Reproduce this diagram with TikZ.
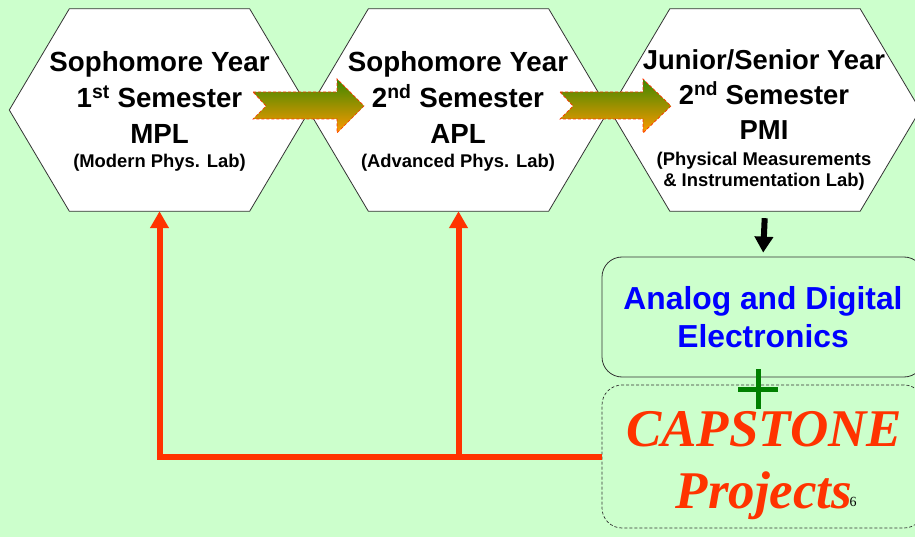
\documentclass[tikz,border=0pt]{standalone}
\usepackage{fontspec}
\setmainfont{Liberation Sans}
\newfontfamily\serifface{Liberation Serif}
\usetikzlibrary{arrows.meta,calc}

\definecolor{pagebg}{RGB}{204,255,204}
\definecolor{loopred}{RGB}{255,51,0}
\definecolor{arrowgreen}{RGB}{60,136,0}
\definecolor{arrowamber}{RGB}{255,153,0}
\definecolor{plusgreen}{RGB}{0,128,0}
\definecolor{edgegray}{RGB}{51,51,51}
\definecolor{labelblue}{RGB}{0,0,255}

\newcommand\fsz[2]{\fontsize{#1}{#2}\selectfont}

\begin{document}
\begin{tikzpicture}[x=1pt,y=-1pt,
  hexbox/.style={minimum width=#1, minimum height=202, inner sep=0pt, draw=none},
  hexline/.style={draw=edgegray, line width=0.8pt, fill=white},
  hextext/.style={align=center, inner sep=0pt, font=\bfseries\fsz{27.7}{36}},
  blockarrow/.style={top color=arrowgreen, bottom color=arrowamber,
    draw=loopred, line width=0.7pt, dash pattern=on 3pt off 2pt},
  loopline/.style={draw=loopred, line width=6pt,
    -{Triangle[length=17pt,width=18pt]}},
  downarrow/.style={draw=black, line width=6pt,
    -{Triangle[length=16pt,width=18pt]}},
  roundbox/.style={rounded corners=20pt, minimum width=322, inner sep=0pt},
]
\clip (0,0) rectangle (915,537);
\fill[pagebg] (0,0) rectangle (915,537);

% hexagon frames
\node[hexbox=300] (h1) at (159.5,110) {};
\node[hexbox=300] (h2) at (458.5,110) {};
\node[hexbox=310] (h3) at (765,110) {};
\foreach \h in {h1,h2,h3}{
  \draw[hexline] (\h.west) -- ([xshift=60pt]\h.north west)
    -- ([xshift=-60pt]\h.north east) -- (\h.east)
    -- ([xshift=-60pt]\h.south east) -- ([xshift=60pt]\h.south west) -- cycle;
}

% hexagon labels (anchored on the baseline of their last line)
\node[hextext, anchor=base] (t1) at (159.5,168)
  {Sophomore Year\\1\textsuperscript{st} Semester\\MPL\\[-12pt]\fsz{18.4}{22}(Modern Phys. Lab)};
\node[hextext, anchor=base] (t2) at (458,168)
  {Sophomore Year\\2\textsuperscript{nd} Semester\\APL\\[-12pt]\fsz{18.4}{22}(Advanced Phys. Lab)};
\node[hextext, anchor=base, font=\bfseries\fsz{27.4}{35}] (t3) at (764,187)
  {Junior/Senior Year\\2\textsuperscript{nd} Semester\\PMI\\[-9pt]\fsz{18.4}{21}(Physical Measurements\\[-14pt]\fsz{18.4}{21}\& Instrumentation Lab)};

% notched block arrows between the semesters
\draw[blockarrow] (253,92) -- (337,92) -- (337,79) -- (364,106) -- (337,133)
  -- (337,119) -- (253,119) -- (266,106) -- cycle;
\draw[blockarrow] (560,92) -- (643,92) -- (643,79) -- (671,106) -- (643,133)
  -- (643,119) -- (560,119) -- (573,106) -- cycle;

% electronics and capstone boxes
\node[roundbox, draw=edgegray, line width=0.8pt, minimum height=120,
  align=center, text=labelblue, font=\bfseries\fsz{31.8}{38}] (ad) at (763,317)
  {Analog and Digital\\Electronics};
\node[roundbox, draw=edgegray, line width=0.7pt, dash pattern=on 3pt off 2pt,
  minimum height=143] (cap) at (763,456.5) {};
\node[anchor=base, align=center, inner sep=0pt, text=loopred,
  font=\serifface\bfseries\itshape\fsz{53}{62}] (capt) at (764,508)
  {CAPSTONE\\Projects};
\node[anchor=base, inner sep=0pt, font=\serifface\fsz{14}{16}] (pg) at (853,506) {6};

% plus sign joining the two boxes
\coordinate (plus) at (758,389);
\draw[plusgreen, line width=5pt] ([xshift=-20pt]plus) -- ([xshift=20pt]plus)
  ([yshift=-20pt]plus) -- ([yshift=20pt]plus);

% flow arrows
\draw[downarrow, shorten <=7pt, shorten >=4pt] (h3.south) -- (ad.north);
\draw[loopline] (cap.west) -| (h1.south);
\draw[loopline] (cap.west) -| (h2.south);
\end{tikzpicture}
\end{document}
